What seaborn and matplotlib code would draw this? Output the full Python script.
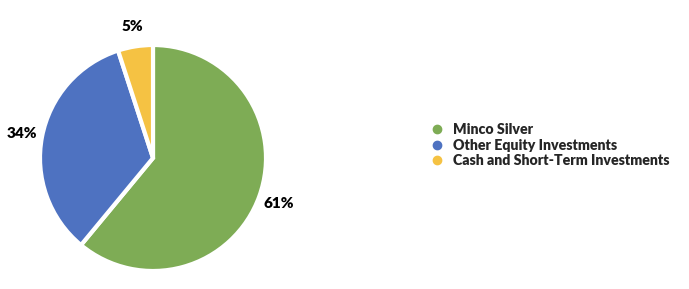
import matplotlib
matplotlib.use("Agg")
import matplotlib.pyplot as plt
from matplotlib.lines import Line2D
import seaborn as sns

categories = ["Minco Silver", "Other Equity Investments", "Cash and Short-Term Investments"]
values = [61, 34, 5]
colors = ["#7EAC55", "#4E72C1", "#F5C243"]

sns.set_style("white")
plt.rcParams['font.family'] = ['Lato', 'DejaVu Sans']

fig = plt.figure(figsize=(6.89, 2.89), dpi=100)
ax = fig.add_axes([40/689, (289-271)/289, 226/689, 226/289])
wedges, texts, autotexts = ax.pie(
    values, colors=colors, startangle=90, counterclock=False,
    autopct=lambda p: f"{p:.0f}%", pctdistance=1.18, radius=1.0,
    wedgeprops=dict(edgecolor="white", linewidth=3),
    textprops=dict(fontsize=11, fontweight="heavy", color="black"))
ax.set_xlim(-1.0, 1.0)
ax.set_ylim(-1.0, 1.0)
ax.set_aspect("equal")
ax.axis("off")

handles = [Line2D([0], [0], marker='o', linestyle='', markersize=6,
                  markerfacecolor=c, markeredgecolor=c) for c in colors]
fig.legend(handles, categories, loc="center left",
           bbox_to_anchor=(430/689, 1 - 145/289), frameon=False,
           prop=dict(family=['Lato', 'DejaVu Sans'], weight='heavy', size=10.2),
           labelspacing=0.2, handlelength=1.0, handletextpad=0.6,
           borderpad=0, borderaxespad=0)
fig.savefig("out.png", dpi=100, facecolor="white")
